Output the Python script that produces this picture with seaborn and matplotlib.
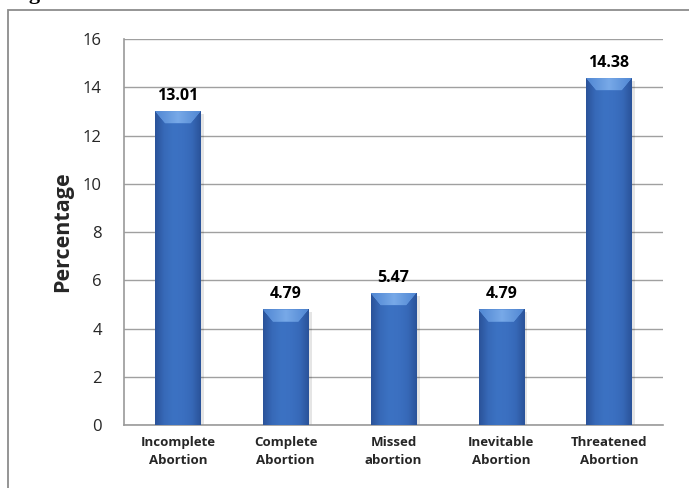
import numpy as np
import pandas as pd
import matplotlib
matplotlib.use("Agg")
import matplotlib.pyplot as plt
from matplotlib.patches import Polygon, Rectangle
from matplotlib.colors import LinearSegmentedColormap
import seaborn as sns

categories = ["Incomplete\nAbortion", "Complete\nAbortion", "Missed\nabortion",
              "Inevitable\nAbortion", "Threatened\nAbortion"]
percentages = [13.01, 4.79, 5.47, 4.79, 14.38]
value_labels = ["13.01", "4.79", "5.47", "4.79", "14.38"]
y_ticks = [0, 2, 4, 6, 8, 10, 12, 14, 16]

df = pd.DataFrame({"type": categories, "pct": percentages})

sns.set_theme(style="white")
plt.rcParams["font.family"] = ["Open Sans", "DejaVu Sans"]

fig = plt.figure(figsize=(6.89, 4.88), dpi=100)
ax = fig.add_axes([0.180, 0.129, 0.782, 0.791])

# outer chart frame (left and top edges visible)
frame = Rectangle((8 / 689, -0.1), 1.2, 1 - 10 / 488 + 0.1, transform=fig.transFigure,
                  fill=False, edgecolor="#8c8c8c", linewidth=1.3, zorder=0)
fig.add_artist(frame)
fig.text(10 / 689, 1 + 1 / 488, "Figure", ha="left", va="baseline",
         fontsize=16, fontweight="bold", family="Liberation Serif", color="black")

sns.barplot(data=df, x="type", y="pct", color="#3a6fc0", width=0.42,
            saturation=1, ax=ax, zorder=3)

ax.set_ylim(0, 16)
ax.set_xlim(-0.5, 4.5)
ax.set_yticks(y_ticks)
ax.set_yticklabels([str(t) for t in y_ticks], fontsize=12)
ax.tick_params(axis="y", length=0, pad=16)
ax.tick_params(axis="x", length=0, pad=8)
for lbl in ax.get_xticklabels():
    lbl.set_fontsize(9.5)
    lbl.set_fontweight("bold")
    lbl.set_linespacing(1.5)
ax.set_xlabel("")
ax.set_ylabel("Percentage", fontsize=15.5, fontweight="bold", labelpad=7)

ax.grid(axis="y", color="#a0a0a0", linewidth=1.0, zorder=0)
ax.set_axisbelow(True)
for s in ["top", "right"]:
    ax.spines[s].set_visible(False)
for s in ["left", "bottom"]:
    ax.spines[s].set_color("#9a9a9a")
    ax.spines[s].set_linewidth(1.2)

# bevelled look for each bar
side_cmap = LinearSegmentedColormap.from_list(
    "bar", ["#2a5299", "#3769b8", "#3c72c3", "#3b70c1", "#3769b8", "#2a5299"])
top_cmap = LinearSegmentedColormap.from_list("top", ["#4f86d2", "#78a9e8", "#4f86d2"])
grad = np.linspace(0, 1, 256).reshape(1, -1)

for patch, val, txt in zip(ax.patches, percentages, value_labels):
    x0, y0 = patch.get_x(), patch.get_y()
    w, h = patch.get_width(), patch.get_height()
    patch.set_edgecolor("none")
    # soft shadow
    shadow = Rectangle((x0 + w * 0.05, -0.12), w * 1.03, h, facecolor="#000000",
                       alpha=0.10, edgecolor="none", zorder=2)
    ax.add_patch(shadow)
    im = ax.imshow(grad, cmap=side_cmap, aspect="auto", extent=(x0, x0 + w, y0, y0 + h),
                   zorder=4, interpolation="bicubic")
    im.set_clip_path(patch)
    dx = w * 0.22
    dy = 0.5
    top = Polygon([(x0, y0 + h), (x0 + w, y0 + h), (x0 + w - dx, y0 + h - dy),
                   (x0 + dx, y0 + h - dy)], closed=True, facecolor="#6a9fe4",
                  edgecolor="none", zorder=5)
    ax.add_patch(top)
    timg = ax.imshow(grad, cmap=top_cmap, aspect="auto",
                     extent=(x0, x0 + w, y0 + h - dy, y0 + h), zorder=5,
                     interpolation="bicubic")
    timg.set_clip_path(top)
    ax.text(x0 + w / 2, val + 0.3, txt, ha="center", va="bottom",
            fontsize=11.5, fontweight="bold", color="black", zorder=6)

ax.set_xlim(-0.5, 4.5)
ax.set_ylim(0, 16)

fig.savefig("out.png", dpi=100, facecolor="white")
